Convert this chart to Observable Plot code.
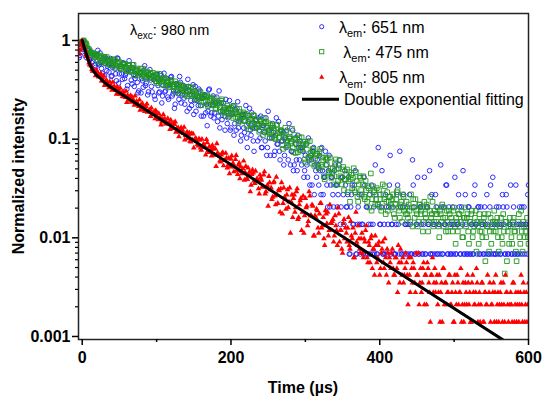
<!DOCTYPE html>
<html><head><meta charset="utf-8">
<script src="https://cdn.jsdelivr.net/npm/d3@7"></script>
<script src="https://cdn.jsdelivr.net/npm/@observablehq/plot@0.6"></script>
<style>
html,body{margin:0;padding:0;background:#fff;}
#chart svg{display:block;}
</style></head><body><div id="chart"></div>
<script>
// sampling grid of the decay traces (µs): even samples start at -4, odd samples at -3, both every 2 µs
const evenStart = -4;
const oddStart = -3;
const timeStep = 2;

// photon counts per channel; the maximum count of each trace normalizes it to 1
const peak651 = 146;
const peak475 = 690;
const peak805 = 1430;

const counts651Even = [
98,121,112,146,128,104,115,93,108,90,
102,78,105,86,109,76,88,64,95,80,
70,96,64,82,75,57,96,67,80,59,
85,65,47,73,76,58,83,50,64,55,
45,67,60,49,81,54,41,66,58,44,
59,37,66,51,44,60,40,68,45,51,
37,52,63,42,30,53,45,37,55,41,
51,33,43,59,30,36,44,26,50,36,
32,45,25,38,41,27,20,46,33,27,
40,27,34,22,45,28,23,34,18,28,
24,36,19,27,16,29,30,19,23,16,
26,17,32,12,21,18,27,14,21,23,
14,18,25,12,20,14,10,28,15,19,
21,10,16,13,22,9,14,17,10,12,
14,21,8,11,7,15,9,16,9,12,
12,6,10,8,15,5,9,11,4,7,
9,5,7,12,4,6,8,3,10,5,
6,3,8,5,4,9,3,6,2,5,
3,6,1,4,2,5,1,2,4,1,
2,1,5,3,1,4,2,1,3,8,
1,12,2,3,1,2,4,1,3,10,
2,3,1,2,5,1,3,1,4,2,
1,2,4,1,9,3,1,2,1,3,
2,1,6,1,3,2,1,4,2,1,
3,1,2,8,1,3,2,5,1,2,
1,3,2,1,2,4,1,3,7,1,
2,1,3,1,2,1,5,2,3,1,
3,2,1,2,4,1,3,1,6,2,
1,2,3,1,2,3,1,4,1,2,
5,1,3,1,2,1,3,2,1,3,
2,1,5];

const counts651Odd = [
103,132,118,125,99,122,94,112,87,106,
82,102,116,83,87,68,96,99,72,83,
93,63,78,88,67,97,54,76,67,87,
60,68,51,91,70,53,66,60,74,43,
69,43,57,73,51,62,44,74,50,63,
40,56,61,43,67,34,51,44,60,39,
52,62,40,45,33,53,42,63,34,45,
38,48,28,50,41,32,52,36,28,40,
47,32,38,25,41,33,28,47,25,33,
24,34,39,25,19,34,28,25,37,21,
30,18,26,32,21,18,35,22,14,26,
19,26,15,22,30,16,19,11,23,19,
24,15,12,20,17,24,12,18,10,15,
17,11,24,13,11,18,14,8,15,18,
9,15,11,18,8,13,7,12,14,8,
11,7,13,6,9,10,5,12,8,6,
8,10,4,7,6,11,5,7,3,6,
4,7,5,3,8,2,6,4,7,3,
4,1,3,5,2,7,1,3,2,4,
2,6,1,3,2,1,5,2,1,4,
1,3,2,7,1,1,3,2,5,1,
2,1,1,4,2,11,1,3,1,2,
3,1,2,1,5,1,2,6,1,3,
1,2,1,3,2,7,1,1,2,4,
1,2,1,3,1,2,5,1,3,1,
2,1,6,1,2,3,1,2,1,4,
1,3,1,2,1,4,2,1,3,1,
2,1,3,1,2,1,5,2,1,1,
3,1,2,1,4,2,1,3,1,2,
1,2,1,5,1,2,1,3,2,1,
2,4];

const counts475Even = [
575,652,662,690,640,618,552,546,505,512,
493,468,497,481,409,457,430,472,406,438,
420,387,434,404,443,383,404,416,354,374,
397,376,346,392,346,366,366,307,341,359,
319,335,319,358,294,326,310,290,324,289,
302,308,254,284,264,303,266,281,243,264,
268,235,275,236,247,208,247,249,221,227,
216,194,233,218,196,231,198,211,176,192,
206,184,152,191,186,166,192,154,170,177,
153,179,143,153,160,130,175,137,144,127,
140,119,143,126,150,116,123,101,130,121,
115,107,125,119,87,110,98,121,91,106,
98,82,105,91,113,82,94,100,72,82,
95,84,69,96,71,82,83,55,71,82,
60,70,62,88,51,69,61,51,72,53,
61,65,40,54,45,66,47,55,37,47,
49,35,55,36,42,27,43,44,32,35,
31,24,40,34,26,42,28,34,21,27,
34,26,16,30,28,21,32,18,24,28,
19,29,17,21,23,14,31,17,20,15,
22,15,19,13,24,17,12,20,16,18,
14,19,11,17,21,13,15,10,18,14,
16,11,13,19,9,14,17,12,10,15,
13,8,16,11,14,10,18,12,9,13,
10,14,7,12,15,9,11,13,8,12,
11,8,14,6,10,12,9,13,7,11,
9,12,6,10,13,8,11,5,9,12,
10,7,11,4,9,12,8,6,10,13,
8,11,5,9,7,12,3,10,8,6,
9,6,11,8,4,10,7,13,5,9,
8,11,6];

const counts475Odd = [
600,668,676,664,645,575,565,520,522,488,
467,502,427,464,485,434,457,405,469,418,
437,394,419,445,365,397,416,381,357,392,
402,365,336,382,364,336,391,333,343,305,
326,358,305,330,283,336,308,319,288,324,
303,267,318,272,280,247,285,288,248,257,
231,262,249,234,266,219,241,202,243,227,
236,211,188,231,211,190,230,193,201,173,
180,207,181,164,186,188,149,171,182,153,
163,139,167,160,145,169,133,142,118,151,
125,138,148,113,126,131,116,140,106,119,
129,105,94,120,109,95,111,119,89,98,
94,108,99,76,100,104,81,85,96,72,
90,71,97,80,72,85,60,76,90,67,
58,73,66,57,76,50,70,62,54,72,
60,43,62,65,45,50,39,53,44,49,
37,51,38,45,29,45,38,31,45,28,
35,29,43,24,35,29,24,36,27,30,
20,32,27,22,35,20,26,16,29,21,
24,18,26,16,22,19,13,23,21,17,
15,21,17,14,19,23,16,13,18,15,
17,12,15,20,14,11,16,19,13,12,
12,15,10,14,17,11,13,9,15,12,
14,10,12,15,8,13,11,16,10,12,
12,9,13,10,11,14,8,10,13,9,
10,13,9,11,8,12,10,7,11,14,
11,8,10,12,7,9,13,10,6,8,
8,10,12,7,9,5,11,9,8,10,
10,7,9,11,6,8,10,4,9,11,
7,10,8,5,9,12,6,8,10,7,
9,7];

const counts805Even = [
1050,1290,1430,1240,1150,990,930,810,790,700,
694,629,650,613,636,559,557,502,539,513,
477,503,448,456,458,410,462,410,412,385,
410,379,338,378,366,339,363,316,329,333,
307,282,316,297,274,304,269,278,244,255,
258,231,258,226,232,200,227,226,204,205,
204,180,202,184,202,169,176,152,178,168,
164,141,164,146,166,134,141,117,145,136,
122,140,111,120,124,99,132,105,109,97,
114,99,76,104,99,84,103,77,87,92,
78,64,90,80,67,89,69,78,57,67,
72,55,76,56,63,42,63,65,51,54,
55,40,58,47,62,40,47,30,52,46,
37,53,31,39,44,26,52,32,37,28,
44,33,16,39,36,26,42,22,31,36,
26,16,36,30,21,38,24,30,15,23,
27,16,32,18,23,12,25,26,17,20,
21,13,24,17,29,13,17,10,22,18,
13,23,11,15,18,9,26,12,14,10,
16,9,13,19,8,12,14,7,11,15,
8,12,6,10,13,7,9,11,5,8,
10,7,6,9,4,8,11,6,5,7,
8,3,6,9,5,7,4,6,10,5,
4,7,3,6,8,5,2,6,4,7,
5,3,6,4,2,7,5,3,4,6,
3,5,2,4,6,3,4,2,5,3,
4,6,3,2,5,4,3,7,2,4,
3,5,2,4,3,1,5,3,4,2,
6,3,2,4,3,5,2,4,3,1,
4,2,5,3,2,4,3,6,2,4,
3,2,5];

const counts805Odd = [
1150,1400,1310,1215,1040,985,850,820,730,715,
711,720,675,623,663,604,627,553,561,505,
545,496,540,492,447,482,449,471,417,436,
395,438,399,356,397,382,351,392,347,320,
358,319,328,286,309,325,276,285,296,263,
273,279,234,260,237,214,254,230,213,231,
211,223,184,208,214,183,187,170,188,177,
189,156,169,158,137,163,162,141,145,127,
144,117,143,128,118,142,109,121,112,124,
99,114,129,99,86,99,105,87,103,73,
92,75,97,81,75,98,63,82,75,64,
86,66,57,73,67,49,70,54,68,57,
45,62,55,47,67,42,49,60,44,35,
52,38,59,32,43,45,25,46,35,39,
29,46,33,23,39,29,45,23,34,17,
38,24,29,19,42,24,31,15,24,28,
18,25,32,19,14,27,20,15,31,20,
22,15,19,12,25,17,11,20,14,16,
18,12,21,14,9,16,13,19,11,14,
10,14,17,9,13,8,15,11,6,12,
9,13,7,11,8,14,6,10,9,7,
11,6,9,7,12,5,8,9,6,10,
6,9,4,7,8,5,10,6,3,7,
5,8,6,3,7,4,6,9,5,4,
6,4,2,5,7,3,5,4,6,3,
4,2,6,3,5,4,7,3,2,5,
3,5,4,2,6,3,4,5,3,2,
5,2,4,3,6,4,2,3,5,4,
2,4,3,5,2,3,6,4,2,3,
3,5,2,4,3,2,4,3,5,2,
4,3];

// double exponential fitting curve
const fitTime  = [0, 2, 4, 6, 8, 10, 13, 16, 20, 25, 30, 40, 565];
const fitValue = [1.0, 0.88, 0.79, 0.71, 0.64, 0.58, 0.52, 0.48, 0.44, 0.41, 0.375, 0.33, 0.00093];

// labels
const seriesWavelengths = ["651 nm", "475 nm", "805 nm"];
const fitLabel = "Double exponential fitting";
const excitationLabel = ": 980 nm";
const xLabel = "Time (µs)";
const yLabel = "Normalized intensity";

// ticks
const xTicks = [0, 200, 400, 600];
const xMinorTicks = [100, 300, 500];
const yTicks = [1, 0.1, 0.01, 0.001];
const yTickLabels = ["1", "0.1", "0.01", "0.001"];
const yMinorTicks = [0.002,0.003,0.004,0.005,0.006,0.007,0.008,0.009,
                     0.02,0.03,0.04,0.05,0.06,0.07,0.08,0.09,
                     0.2,0.3,0.4,0.5,0.6,0.7,0.8,0.9];

function toSeries(counts, peak, start) {
  return counts.map((c, i) => ({t: start + i * timeStep, v: c / peak})).filter(d => d.v > 0);
}
function merged(even, odd, peak) {
  return toSeries(even, peak, evenStart).concat(toSeries(odd, peak, oddStart)).sort((a, b) => a.t - b.t);
}
const data651 = merged(counts651Even, counts651Odd, peak651);
const data475 = merged(counts475Even, counts475Odd, peak475);
const data805 = merged(counts805Even, counts805Odd, peak805);
const fitData = fitTime.map((t, i) => ({t, v: fitValue[i]}));

const BLUE = "#1a1aff", GREEN = "#209620", RED = "#ff0000";
const FONT = "'Liberation Sans', Arial, Helvetica, sans-serif";
const R_CIRCLE = 2.3, R_SQUARE = 2.6, R_TRI = 2.1;

const ML = 78, MR = 22, MT = 13, MB = 64, W = 550, H = 403;

const plot = Plot.plot({
  width: W, height: H,
  marginLeft: ML, marginRight: MR, marginTop: MT, marginBottom: MB,
  style: {fontFamily: FONT, fontSize: "16px", fontWeight: "bold", color: "#000", background: "#fff", overflow: "visible"},
  x: {domain: [-5, 600]},
  y: {type: "log", domain: [0.000932, 1.878]},
  marks: [
    Plot.dot(data651, {x: "t", y: "v", symbol: "circle", r: R_CIRCLE, stroke: BLUE, strokeWidth: 0.9, fill: "none", clip: true}),
    Plot.dot(data475, {x: "t", y: "v", symbol: "square", r: R_SQUARE, stroke: GREEN, strokeWidth: 0.9, fill: "none", clip: true}),
    Plot.dot(data805, {x: "t", y: "v", symbol: "triangle", r: R_TRI, fill: RED, stroke: "none", clip: true}),
    Plot.line(fitData, {x: "t", y: "v", stroke: "#000", strokeWidth: 3, clip: true}),
    Plot.frame({stroke: "#222", strokeWidth: 1.5}),
    Plot.axisX({ticks: xTicks, tickSize: 6, tickPadding: 6, strokeWidth: 1.5, label: null, tickFormat: d => String(d)}),
    Plot.axisX({ticks: xMinorTicks, tickSize: 3, strokeWidth: 1.5, label: null, tickFormat: () => ""}),
    Plot.axisY({ticks: yTicks, tickSize: 6, tickPadding: 2, strokeWidth: 1.5, label: null, tickFormat: d => yTickLabels[yTicks.indexOf(d)]}),
    Plot.axisY({ticks: yMinorTicks, tickSize: 3, strokeWidth: 1.2, label: null, tickFormat: () => ""})
  ]
});
document.getElementById("chart").appendChild(plot);

const svg = d3.select(plot);
const ann = svg.append("g").attr("font-family", FONT).attr("fill", "#000").attr("text-anchor", "start");

// axis titles
ann.append("text")
  .attr("transform", `translate(24,${(MT + H - MB) / 2}) rotate(-90)`)
  .attr("text-anchor", "middle").attr("font-weight", "bold").attr("font-size", 16)
  .text(yLabel);
ann.append("text")
  .attr("x", (ML + W - MR) / 2).attr("y", 393)
  .attr("text-anchor", "middle").attr("font-weight", "bold").attr("font-size", 16)
  .text(xLabel);

function lambdaText(x, y, sub, rest, size, subSize) {
  const t = ann.append("text").attr("x", x).attr("y", y).attr("font-size", size).attr("font-weight", "normal");
  t.append("tspan").text("λ");
  t.append("tspan").attr("font-size", subSize).attr("dy", size * 0.28).text(sub);
  t.append("tspan").attr("dy", -size * 0.28).text(rest);
}

// excitation annotation
lambdaText(130, 35, "exc", excitationLabel, 14.5, 10);

// legend
const legX = 321.7;
const rows = [
  {y: 26.7, tx: 339, kind: "circle"},
  {y: 51.7, tx: 343.3, kind: "square"},
  {y: 77.3, tx: 339.3, kind: "triangle"}
];
rows.forEach((r, i) => {
  if (r.kind === "circle") {
    ann.append("circle").attr("cx", legX).attr("cy", r.y).attr("r", 2.1)
      .attr("fill", "none").attr("stroke", BLUE).attr("stroke-width", 0.9);
  } else if (r.kind === "square") {
    ann.append("rect").attr("x", legX - 2.1).attr("y", r.y - 2.1).attr("width", 4.2).attr("height", 4.2)
      .attr("fill", "none").attr("stroke", GREEN).attr("stroke-width", 0.9);
  } else {
    ann.append("path").attr("transform", `translate(${legX},${r.y})`)
      .attr("d", d3.symbol(d3.symbolTriangle, Math.PI * 1.9 * 1.9)()).attr("fill", RED);
  }
  lambdaText(r.tx, r.y + 6, "em", ": " + seriesWavelengths[i], 16, 11);
});
ann.append("line").attr("x1", 302).attr("x2", 339).attr("y1", 99.3).attr("y2", 99.3)
  .attr("stroke", "#000").attr("stroke-width", 3);
ann.append("text").attr("x", 344).attr("y", 105).attr("font-size", 16).attr("font-weight", "normal").text(fitLabel);
</script>
</body></html>
